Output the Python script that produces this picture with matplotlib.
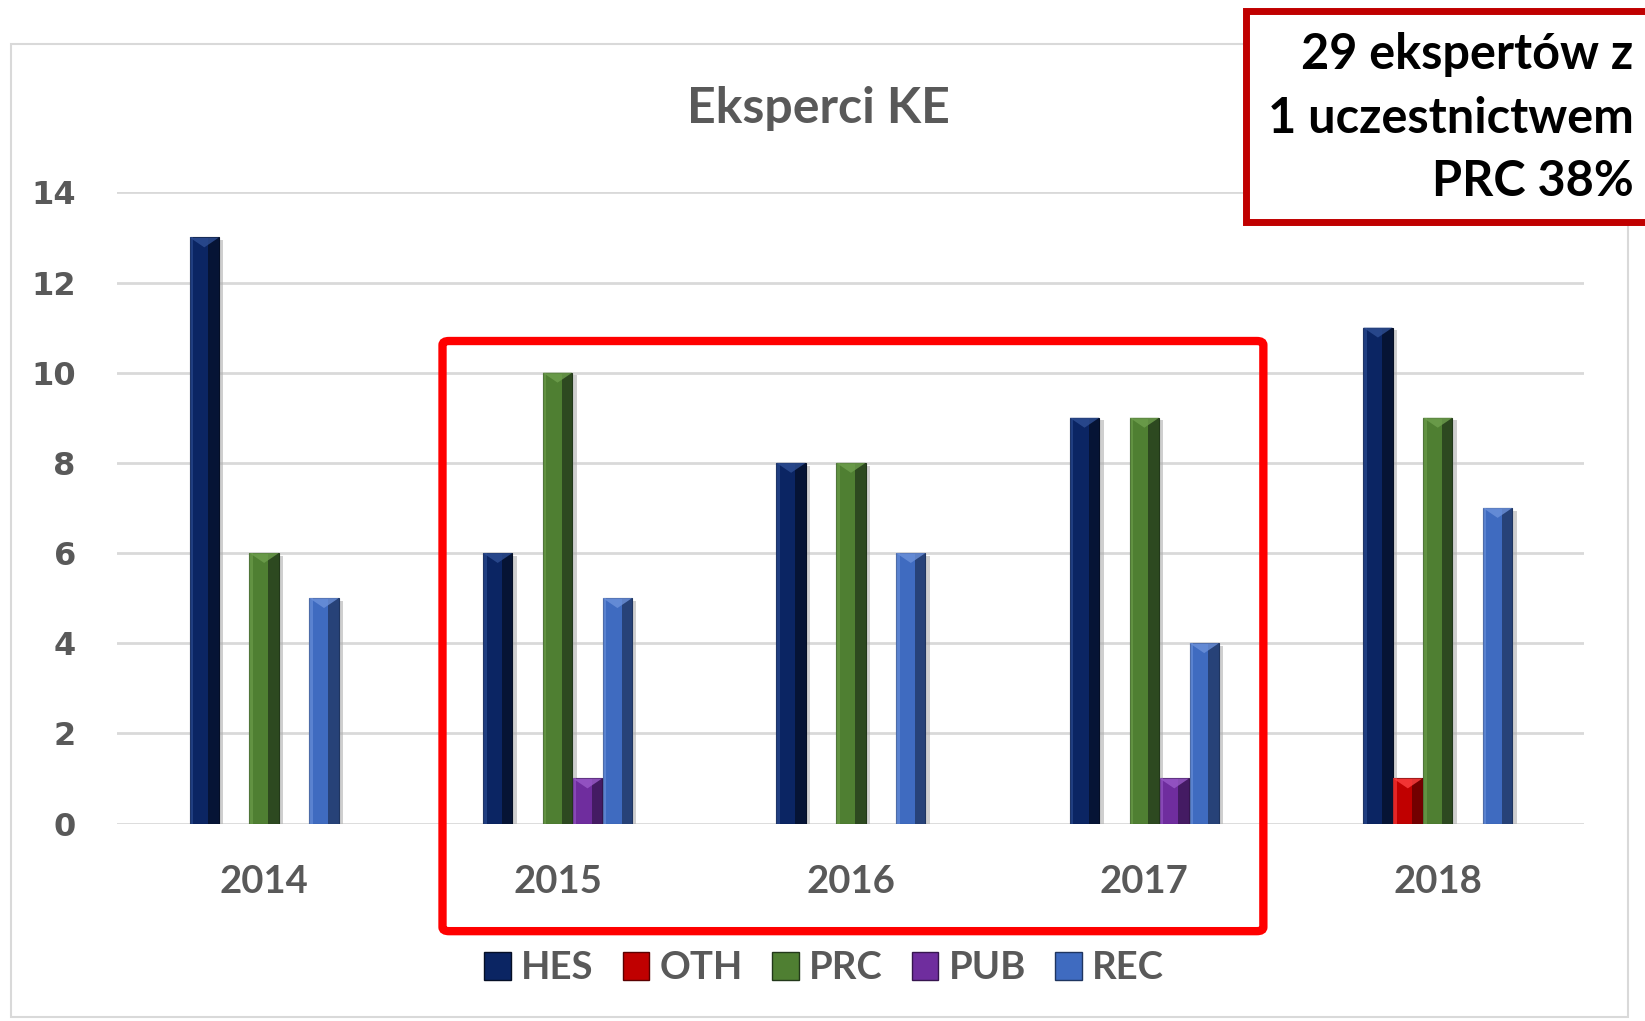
import numpy as np
import matplotlib.pyplot as plt
from matplotlib.patches import Rectangle, FancyBboxPatch, Polygon, Patch

# data
years = ['2014', '2015', '2016', '2017', '2018']
series = ['HES', 'OTH', 'PRC', 'PUB', 'REC']
hes = [13, 6, 8, 9, 11]
oth = [0, 0, 0, 0, 1]
prc = [6, 10, 8, 9, 9]
pub = [0, 1, 0, 1, 0]
rec = [5, 5, 6, 4, 7]
values = [hes, oth, prc, pub, rec]

# main / dark / light shade per series
colors = ['#0b2563', '#c00000', '#4f7f32', '#6f2d9e', '#3f6bc0']
darks = ['#050f26', '#5a0000', '#22381a', '#36154f', '#1f3560']
lights = ['#2f4f95', '#ff4040', '#6fa04e', '#9a5bc9', '#6d92db']

note_lines = ['29 ekspertów z', '1 uczestnictwem', 'PRC 38%']

grey = '#595959'
plt.rcParams['font.family'] = ['Lato', 'DejaVu Sans']

fig = plt.figure(figsize=(16.45, 10.21), dpi=100)

# outer chart border
fig.patches.append(Rectangle((0.0064, 0.004), 0.983, 0.953, transform=fig.transFigure,
                             fill=False, ec='#d9d9d9', lw=1.5, zorder=0))

ax = fig.add_axes([0.0714, 0.1934, 0.8918, 0.6182])
ax.set_xlim(-0.5, 4.5)
ax.set_ylim(0, 14)
ax.set_yticks(range(0, 15, 2))
ax.yaxis.grid(True, color='#d9d9d9', lw=2)
ax.set_axisbelow(True)
for s in ax.spines.values():
    s.set_visible(False)

x = np.arange(len(years))
slot = 0.102
w = 0.1
for i, (vals, c, d, l) in enumerate(zip(values, colors, darks, lights)):
    xs = x + (i - 2) * slot
    for xi, v in zip(xs, vals):
        if v == 0:
            continue
        # soft shadow
        ax.bar(xi + w * 0.15, v, width=w, bottom=-0.06, color='#b0b0b0', alpha=0.6, zorder=1)
        ax.bar(xi, v, width=w, color=c, edgecolor=d, lw=0.8, zorder=2)
        ax.bar(xi + w * 0.32, v, width=w * 0.36, color=d, alpha=0.75, lw=0, zorder=3)
        ax.bar(xi - w * 0.44, v, width=w * 0.12, color=l, alpha=0.6, lw=0, zorder=3)
        ax.add_patch(Polygon([[xi - w / 2, v], [xi + w / 2, v], [xi, v - 0.22]],
                             closed=True, color=l, alpha=0.8, lw=0, zorder=4))

ax.set_xticks(x)
ax.set_xticklabels(years)
ax.tick_params(axis='x', length=0, pad=30, labelsize=27.5, labelcolor=grey)
ax.tick_params(axis='y', length=0, pad=30, labelsize=23, labelcolor=grey)
for t in ax.get_xticklabels():
    t.set_fontweight('bold')
for t in ax.get_yticklabels():
    t.set_fontfamily('DejaVu Sans')
    t.set_fontweight('bold')

fig.text(0.4975, 0.894, 'Eksperci KE', ha='center', va='center', fontsize=36,
         fontweight='bold', color=grey)

handles = [Patch(facecolor=c, edgecolor=d, lw=1) for c, d in zip(colors, darks)]
leg = fig.legend(handles, series, loc='center', bbox_to_anchor=(0.501, 0.052), ncol=5,
                 frameon=False, fontsize=27.5, handlelength=0.69, handleheight=0.75,
                 handletextpad=0.27, columnspacing=0.77)
for t in leg.get_texts():
    t.set_color(grey)
    t.set_fontweight('bold')

# red frame around 2015-2017
fig.patches.append(FancyBboxPatch((0.269, 0.088), 0.499, 0.578,
                                  boxstyle='round,pad=0,rounding_size=0.004',
                                  transform=fig.transFigure, fill=False,
                                  ec='#ff0000', lw=6, zorder=5))

# note box, top right
fig.patches.append(Rectangle((0.7575, 0.7826), 0.3, 0.2064, transform=fig.transFigure,
                             fc='white', ec='#c00000', lw=5, zorder=5))
fig.text(0.993, 0.884, '\n'.join(note_lines), ha='right', va='center', fontsize=35,
         fontweight='bold', color='black', linespacing=1.5, zorder=6)

fig.savefig('out.png', dpi=100)
